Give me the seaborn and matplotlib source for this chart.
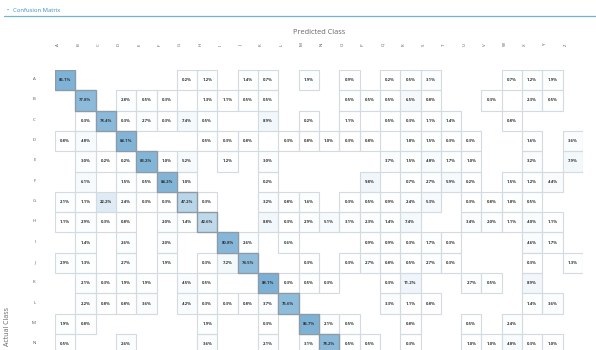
import numpy as np
import pandas as pd
import matplotlib
matplotlib.use("Agg")
import matplotlib.pyplot as plt
import seaborn as sns
from matplotlib.colors import LinearSegmentedColormap
from matplotlib.patches import Rectangle
from matplotlib.lines import Line2D

# ---------------- data (percent of actual class) ----------------
classes = list("ABCDEFGHIJKLMNOPQRSTUVWXYZ")
visible_rows = list("ABCDEFGHIJKLMN")

#        A     B     C     D     E     F     G     H     I     J     K     L     M     N     O    P    Q     R     S    T    U    V    W    X    Y    Z
row_A = [86.1, 0,    0,    0,    0,    0,    0.2,  1.2,  0,    1.4,  0.7,  0,    1.9,  0,    0.9, 0,   0.2,  0.5,  3.1, 0,   0,   0,   0.7, 1.2, 1.9, 0]
row_B = [0,    77.8, 0,    2.8,  0.5,  0.3,  0,    1.3,  1.1,  0.5,  0.5,  0,    0,    0,    0.5, 0.5, 0.5,  6.5,  0.8, 0,   0,   0.3, 0,   2.3, 0.5, 0]
row_C = [0,    0.3,  78.4, 0.3,  2.7,  0.3,  7.4,  0.5,  0,    0,    8.9,  0,    0.2,  0,    1.1, 0,   0.5,  0.3,  1.1, 1.4, 0,   0,   0.8, 0,   0,   0]
row_D = [0.8,  4.8,  0,    84.1, 0,    0,    0,    0.5,  0.3,  0.8,  0,    0.3,  0.8,  1.0,  0.3, 0.8, 0,    1.8,  1.5, 0.3, 0.3, 0,   0,   1.6, 0,   3.6]
row_E = [0,    3.0,  0.2,  0.2,  83.2, 1.0,  5.2,  0,    1.2,  0,    3.0,  0,    0,    0,    0,   0,   3.7,  1.5,  4.8, 1.7, 1.0, 0,   0,   3.2, 0,   7.9]
row_F = [0,    6.1,  0,    1.5,  0.5,  84.2, 1.0,  0,    0,    0,    0.2,  0,    0,    0,    0,   9.8, 0,    0.7,  2.7, 5.9, 0.2, 0,   1.5, 1.2, 4.4, 0]
row_G = [2.1,  1.1,  22.2, 2.4,  0.3,  0.3,  47.2, 0.3,  0,    0,    3.2,  0.8,  1.6,  0,    0.3, 0.5, 0.9,  2.4,  5.3, 0,   0.3, 0.8, 1.8, 0.5, 0,   0]
row_H = [1.1,  2.9,  0.3,  0.8,  0,    2.0,  1.4,  42.6, 0,    0,    8.8,  0.3,  2.9,  5.1,  3.1, 2.3, 1.4,  7.4,  0,   0,   3.4, 2.0, 1.1, 4.0, 1.1, 0]
row_I = [0,    1.4,  0,    2.6,  0,    2.0,  0,    0,    80.8, 2.6,  0,    0.6,  0,    0,    0,   0.9, 0.9,  0.3,  1.7, 0.3, 0,   0,   0,   4.6, 1.7, 0]
row_J = [2.9,  1.3,  0,    2.7,  0,    1.9,  0,    0.3,  7.2,  74.5, 0,    0,    0.3,  0,    0.3, 2.7, 0.8,  0.5,  2.7, 0.3, 0,   0,   0,   0.3, 0,   1.3]
row_K = [0,    2.1,  0.3,  1.9,  1.9,  0,    4.5,  0.5,  0,    0,    88.1, 0.3,  0.5,  0.3,  0,   0,   0.3,  11.2, 0,   0,   2.7, 0.5, 0,   8.9, 0,   0]
row_L = [0,    2.2,  0.8,  0.8,  3.6,  0,    4.2,  0.3,  0.3,  0.8,  3.7,  75.6, 0,    0,    0,   0,   3.3,  1.1,  0.8, 0,   0,   0,   0,   1.4, 3.6, 0]
row_M = [1.9,  0.8,  0,    0,    0,    0,    0,    1.9,  0,    0,    0.3,  0,    86.7, 2.1,  0.5, 0,   0,    0.8,  0,   0,   0.5, 0,   2.4, 0,   0,   0]
row_N = [0.5,  0,    0,    2.6,  0,    0,    0,    3.6,  0,    0,    2.1,  0,    3.1,  78.2, 0.5, 0.5, 0,    0.3,  0,   0,   1.0, 1.0, 4.8, 0.3, 1.0, 0]

rows = [row_A, row_B, row_C, row_D, row_E, row_F, row_G,
        row_H, row_I, row_J, row_K, row_L, row_M, row_N]
df = pd.DataFrame(rows, index=visible_rows, columns=classes)

# ---------------- style ----------------
sns.set_theme(style="white")
plt.rcParams['font.family'] = ['Open Sans', 'DejaVu Sans']

W, H = 596, 350
fig = plt.figure(figsize=(W / 100, H / 100), dpi=100)
fig.patch.set_facecolor("white")

left, right, top = 55, 583, 70
cell = (right - left) / len(classes)
bottom = top + cell * len(visible_rows)
ax = fig.add_axes([left / W, 1 - bottom / H, (right - left) / W, (bottom - top) / H])

cmap = LinearSegmentedColormap.from_list("blues_cm", ["#ffffff", "#6aa6cf"])
annot = df.apply(lambda col: col.map(lambda v: f"{v:.1f}%" if v > 0 else ""))

sns.heatmap(df, mask=(df <= 0), cmap=cmap, vmin=0, vmax=100,
            annot=annot, fmt="", cbar=False, linewidths=0,
            annot_kws=dict(fontsize=3.1, color="#333333", fontweight="bold"),
            ax=ax)

# outline of every non-empty cell (light) and of the diagonal (darker)
vals = df.to_numpy()
for i, r in enumerate(visible_rows):
    for j, c in enumerate(classes):
        if vals[i, j] > 0 and r != c:
            ax.add_patch(Rectangle((j, i), 1, 1, fill=False,
                                   edgecolor="#d3dae0", lw=0.8, zorder=2))
for i, r in enumerate(visible_rows):
    j = classes.index(r)
    ax.add_patch(Rectangle((j, i), 1, 1, fill=False, edgecolor="#8d9ba6",
                           lw=1.0, zorder=3))

# ticks
ax.xaxis.tick_top()
ax.set_xticks(np.arange(len(classes)) + 0.15)
ax.set_xticklabels(classes, fontsize=3.2, color="#555555", rotation=90)
ax.set_yticks(np.arange(len(visible_rows)) + 0.45)
ax.set_yticklabels(visible_rows, fontsize=3.2, color="#555555", rotation=0)
ax.tick_params(axis="x", length=0, pad=17)
ax.tick_params(axis="y", length=0, pad=14)
ax.set_xlabel("")
ax.set_ylabel("")

# axis titles
fig.text(319 / W, 1 - 32 / H, "Predicted Class", ha="center", va="center",
         fontsize=5.3, color="#666666")
fig.text(8 / W, 1 - 327 / H, "Actual Class", ha="center", va="center",
         rotation=90, fontsize=5.0, color="#666666")

# panel header
fig.text(8 / W, 1 - 10 / H, "•", ha="center", va="center", fontsize=4,
         color="#3d8bc4")
fig.text(13 / W, 1 - 10 / H, "Confusion Matrix", ha="left", va="center",
         fontsize=4.2, color="#3d8bc4")
fig.add_artist(Line2D([4 / W, 1.0], [1 - 15.5 / H, 1 - 15.5 / H],
                      transform=fig.transFigure, color="#74b3d1", lw=0.9))

fig.savefig("out.png", dpi=100)
